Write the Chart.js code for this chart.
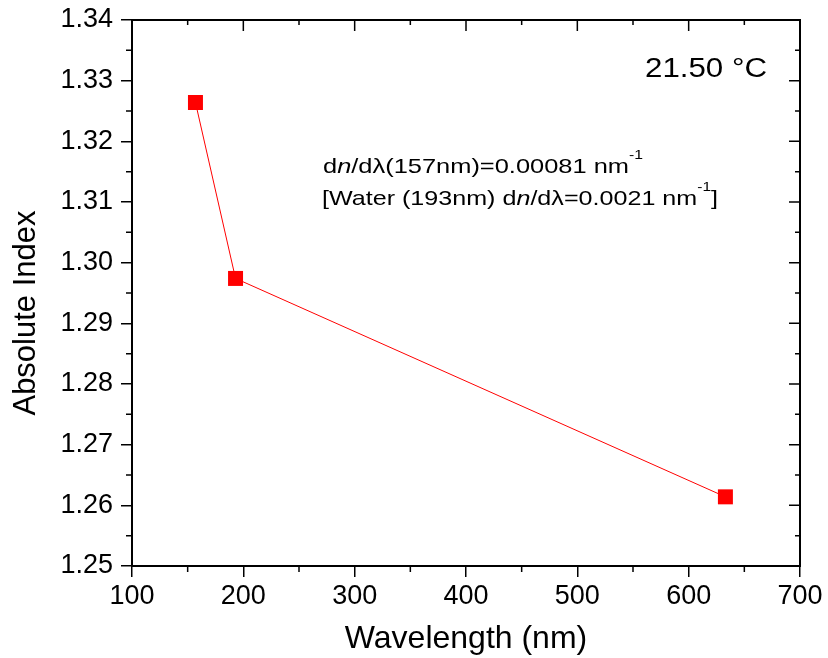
<!DOCTYPE html>
<html>
<head>
<meta charset="utf-8">
<script src="https://cdn.jsdelivr.net/npm/chart.js@4"></script>
<style>
  html, body { margin: 0; padding: 0; background: #fff; }
  #wrap { width: 828px; height: 658px; position: relative; }
</style>
</head>
<body>
<div id="wrap"><canvas id="chart" width="828" height="658"></canvas></div>
<script>
const wavelengths = [157, 193, 633];
const indexValues = [1.3264, 1.2974, 1.2614];
const xTicks = [100, 200, 300, 400, 500, 600, 700];
const yTicks = [1.25, 1.26, 1.27, 1.28, 1.29, 1.30, 1.31, 1.32, 1.33, 1.34];
const tempLabel = "21.50 °C";
const xTitle = "Wavelength (nm)";
const yTitle = "Absolute Index";

const FONT = "'Liberation Sans', Arial, sans-serif";

// draws text pieces (italic / superscript) stretched to a given width
function drawRich(ctx, parts, x, y, size, width) {
    const fontOf = p => (p.it ? 'italic ' : '') + (p.sup ? Math.round(size * 0.6) : size) + 'px ' + FONT;
    let total = 0;
    parts.forEach(p => { ctx.font = fontOf(p); total += ctx.measureText(p.t).width; });
    const sx = width ? width / total : 1;
    ctx.save();
    ctx.translate(x, y);
    ctx.scale(sx, 1);
    let cx = 0;
    parts.forEach(p => {
        ctx.font = fontOf(p);
        ctx.fillText(p.t, cx, p.sup ? -size * 0.68 : 0);
        cx += ctx.measureText(p.t).width;
    });
    ctx.restore();
}

// minor ticks, mirrored ticks on top/right, frame and texts, like Origin
const frameTicks = {
    id: 'frameTicks',
    afterDraw(chart) {
        const ctx = chart.ctx;
        const a = chart.chartArea;
        const xs = chart.scales.x, ys = chart.scales.y;
        ctx.save();
        ctx.strokeStyle = '#000';
        ctx.lineWidth = 2;
        ctx.beginPath();
        ctx.rect(a.left, a.top, a.right - a.left, a.bottom - a.top);
        ctx.stroke();
        ctx.lineWidth = 1.5;
        ctx.beginPath();
        xTicks.forEach((v, i) => {
            const px = xs.getPixelForValue(v);
            ctx.moveTo(px, a.top); ctx.lineTo(px, a.top + 11);
            if (i < xTicks.length - 1) {
                const m = xs.getPixelForValue(v + 50);
                ctx.moveTo(m, a.bottom); ctx.lineTo(m, a.bottom + 6);
                ctx.moveTo(m, a.top); ctx.lineTo(m, a.top + 5);
            }
        });
        yTicks.forEach((v, i) => {
            const py = ys.getPixelForValue(v);
            ctx.moveTo(a.right, py); ctx.lineTo(a.right - 11, py);
            if (i < yTicks.length - 1) {
                const m = ys.getPixelForValue(v + 0.005);
                ctx.moveTo(a.left, m); ctx.lineTo(a.left - 6, m);
                ctx.moveTo(a.right, m); ctx.lineTo(a.right - 5, m);
            }
        });
        ctx.stroke();

        ctx.fillStyle = '#000';
        ctx.textBaseline = 'alphabetic';

        // axis titles
        ctx.textAlign = 'center';
        ctx.font = '32px ' + FONT;
        ctx.fillText(xTitle, (a.left + a.right) / 2, 648);
        ctx.save();
        ctx.translate(35, 313);
        ctx.rotate(-Math.PI / 2);
        ctx.font = '31px ' + FONT;
        ctx.fillText(yTitle, 0, 0);
        ctx.restore();
        ctx.textAlign = 'left';

        // annotations
        drawRich(ctx, [{t: tempLabel}], 645, 77, 27, 122);
        drawRich(ctx, [{t: 'd'}, {t: 'n', it: true}, {t: '/dλ(157nm)=0.00081 nm'}, {t: '-1', sup: true}], 323, 173, 21, 320);
        drawRich(ctx, [{t: '[Water (193nm) d'}, {t: 'n', it: true}, {t: '/dλ=0.0021 nm'}, {t: '-1', sup: true}, {t: ']'}], 322, 205, 21, 396);
        ctx.restore();
    }
};

new Chart(document.getElementById('chart'), {
    type: 'scatter',
    data: {
        datasets: [{
            data: wavelengths.map((w, i) => ({ x: w, y: indexValues[i] })),
            showLine: true,
            borderColor: '#ff0000',
            borderWidth: 1,
            backgroundColor: '#ff0000',
            pointStyle: 'rect',
            pointRadius: 10.6,
            pointBorderWidth: 0,
            pointBackgroundColor: '#ff0000',
            tension: 0
        }]
    },
    options: {
        responsive: false,
        animation: false,
        layout: { padding: { top: 20, right: 28, left: 0, bottom: 0 } },
        plugins: { legend: { display: false }, tooltip: { enabled: false } },
        scales: {
            x: {
                type: 'linear', min: 100, max: 700,
                afterBuildTicks: s => { s.ticks = xTicks.map(v => ({ value: v })); },
                afterFit: s => { s.height = 92; s.paddingLeft = 0; s.paddingRight = 0; },
                border: { display: false },
                grid: { drawOnChartArea: false, drawTicks: true, tickLength: 11, color: '#000', lineWidth: 1.5 },
                ticks: { color: '#000', font: { family: FONT, size: 27 }, padding: 3, maxRotation: 0 }
            },
            y: {
                type: 'linear', min: 1.25, max: 1.34,
                afterBuildTicks: s => { s.ticks = yTicks.map(v => ({ value: v })); },
                afterFit: s => { s.width = 132; s.paddingTop = 0; s.paddingBottom = 0; },
                border: { display: false },
                grid: { drawOnChartArea: false, drawTicks: true, tickLength: 11, color: '#000', lineWidth: 1.5 },
                ticks: { color: '#000', font: { family: FONT, size: 27 }, padding: 8, callback: v => v.toFixed(2) }
            }
        }
    },
    plugins: [frameTicks]
});
</script>
</body>
</html>
